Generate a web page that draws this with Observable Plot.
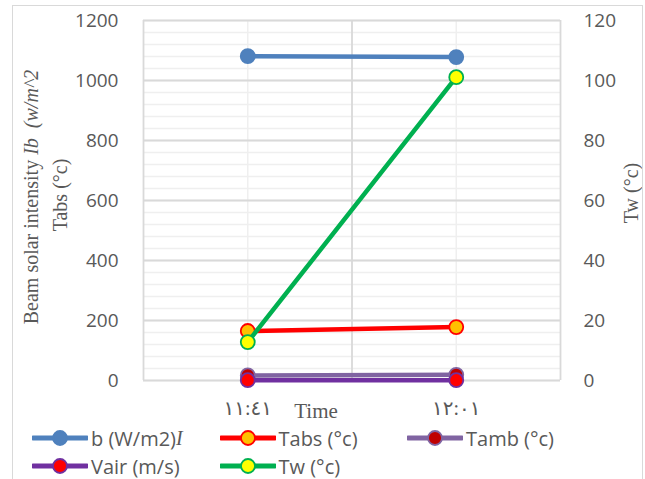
<!DOCTYPE html>
<html>
<head>
<meta charset="utf-8">
<script src="https://cdn.jsdelivr.net/npm/d3@7"></script>
<script src="https://cdn.jsdelivr.net/npm/@observablehq/plot@0.6"></script>
<style>
  body { margin: 0; background: #fff; }
  #wrap { position: relative; width: 645px; height: 479px; overflow: hidden; background: #fff; }
  #frame { position: absolute; left: 12px; top: 5px; width: 631px; height: 500px; border: 1px solid #d9d9d9; box-sizing: border-box; pointer-events: none; }
  #chart svg { display: block; }
  #legend { position: relative; width: 645px; height: 57px; font-family: "Open Sans", sans-serif; font-size: 20px; color: #595959; }
  .item { position: absolute; display: flex; align-items: center; height: 26px; white-space: nowrap; }
  .item svg { display: block; margin-right: 3px; }
  .ital { font-family: "Liberation Serif", serif; font-style: italic; }
</style>
</head>
<body>
<div id="wrap">
  <div id="chart"></div>
  <div id="legend"></div>
  <div id="frame"></div>
</div>
<script>
// ---- data ----
const times = ["١١:٤١", "١٢:٠١"];
const ib   = [1081, 1078];    // W/m2 (left axis)
const tabs = [165, 178];      // °C (left axis)
const tamb = [17, 19];        // °C (left axis)
const vair = [1, 1];          // m/s (left axis)
const tw   = [12.8, 101.1];   // °C (right axis)
const leftTicks  = [0, 200, 400, 600, 800, 1000, 1200];
const rightTicks = [0, 20, 40, 60, 80, 100, 120];

// ---- styles ----
const series = [
  {key: "ib",   line: "#4f81bd", fill: "#4f81bd", stroke: "#4f81bd"},
  {key: "tabs", line: "#ff0000", fill: "#ffc000", stroke: "#ff0000"},
  {key: "tamb", line: "#8064a2", fill: "#c00000", stroke: "#8064a2"},
  {key: "vair", line: "#7030a0", fill: "#ff0000", stroke: "#7030a0"},
  {key: "tw",   line: "#00b050", fill: "#ffff00", stroke: "#00b050"}
];

const rows = times.map((t, i) => ({
  i, t, ib: ib[i], tabs: tabs[i], tamb: tamb[i], vair: vair[i], tw: tw[i] * 10
}));

const minorY = d3.range(0, 1201, 40);
const majorX = [-0.5, 0.5, 1.5];
const minorX = times.map((t, i) => i);

const marks = [
  Plot.ruleY(minorY, {stroke: "#efefef", strokeWidth: 1.3}),
  Plot.ruleX(minorX, {stroke: "#efefef", strokeWidth: 1.5}),
  Plot.ruleY(leftTicks, {stroke: "#d9d9d9", strokeWidth: 1.8}),
  Plot.ruleX(majorX, {stroke: "#d9d9d9", strokeWidth: 1.8}),
  Plot.axisY(leftTicks, {anchor: "left", tickSize: 0, tickPadding: 25, color: "#595959", label: null,
    tickFormat: (d) => String(d)}),
  Plot.axisY(leftTicks, {anchor: "right", tickSize: 0, tickPadding: 23, color: "#595959", label: null,
    tickFormat: (d) => String(rightTicks[leftTicks.indexOf(d)])}),
  Plot.axisX(minorX, {tickSize: 0, tickPadding: 20, color: "#595959", label: null,
    fontFamily: "'Liberation Serif', 'DejaVu Sans', serif", fontSize: 20,
    tickFormat: (i) => times[i]}),
  Plot.text(["Time"], {frameAnchor: "bottom", dx: -36, dy: 31, fontFamily: "'Liberation Serif', serif",
    fontSize: 21, fill: "#595959", lineAnchor: "middle"})
];
for (const s of series) {
  marks.push(Plot.line(rows, {x: "i", y: s.key, stroke: s.line, strokeWidth: 4.5}));
  marks.push(Plot.dot(rows, {x: "i", y: s.key, r: 7, fill: s.fill, stroke: s.stroke, strokeWidth: 1.8}));
}

const chart = Plot.plot({
  width: 645,
  height: 422,
  marginLeft: 143,
  marginRight: 85,
  marginTop: 20,
  marginBottom: 42,
  style: {fontFamily: "'Open Sans', sans-serif", fontSize: "19px", background: "transparent", overflow: "visible"},
  x: {type: "linear", domain: [-0.5, 1.5], axis: null},
  y: {domain: [0, 1200], axis: null},
  marks
});
document.getElementById("chart").appendChild(chart);

// axis titles (rotated, with mixed italics)
const svg = d3.select(chart);
const serif = "'Liberation Serif', serif";
function title(x, y) {
  return svg.append("text")
    .attr("transform", `translate(${x},${y}) rotate(-90)`)
    .attr("text-anchor", "middle").attr("dominant-baseline", "central")
    .style("font-family", serif).style("font-size", "20px").attr("fill", "#595959")
    .style("white-space", "pre");
}
const t1 = title(31, 197);
t1.append("tspan").text("Beam solar intensity ");
t1.append("tspan").style("font-style", "italic").text("Ib");
t1.append("tspan").text("  ");
t1.append("tspan").style("font-style", "italic").text("(w/m^2");
title(60, 195).text("Tabs (°c)");
title(631, 193).text("Tw (°c)");

// legend
const labels = {
  ib: ["b (W/m2)", "I"],
  tabs: ["Tabs (°c)"],
  tamb: ["Tamb (°c)"],
  vair: ["Vair (m/s)"],
  tw: ["Tw (°c)"]
};
const legend = document.getElementById("legend");
series.forEach((s, k) => {
  const row = k < 3 ? 0 : 1;
  const col = k < 3 ? k : k - 3;
  const div = document.createElement("div");
  div.className = "item";
  div.style.left = (32 + col * 187.5) + "px";
  div.style.top = (3 + row * 28) + "px";
  const sw = d3.create("svg").attr("width", 56).attr("height", 20);
  sw.append("line").attr("x1", 1).attr("x2", 55).attr("y1", 10).attr("y2", 10)
    .attr("stroke", s.line).attr("stroke-width", 5).attr("stroke-linecap", "round");
  sw.append("circle").attr("cx", 28).attr("cy", 10).attr("r", 7)
    .attr("fill", s.fill).attr("stroke", s.stroke).attr("stroke-width", 1.8);
  div.appendChild(sw.node());
  const span = document.createElement("span");
  span.textContent = labels[s.key][0];
  div.appendChild(span);
  if (labels[s.key][1]) {
    const it = document.createElement("span");
    it.className = "ital";
    it.textContent = labels[s.key][1];
    div.appendChild(it);
  }
  legend.appendChild(div);
});
</script>
</body>
</html>
